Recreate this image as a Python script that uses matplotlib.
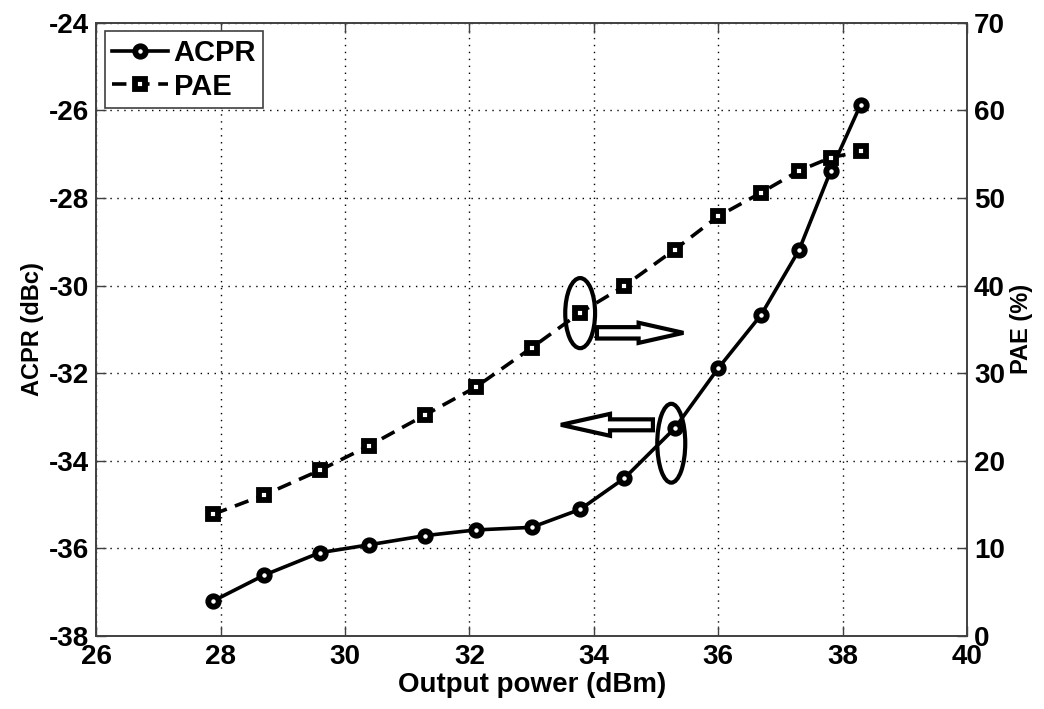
import matplotlib
matplotlib.use("Agg")
import matplotlib.pyplot as plt
from matplotlib.patches import Ellipse, FancyArrow

plt.rcParams['font.family'] = ['Liberation Sans', 'DejaVu Sans']
plt.rcParams['font.weight'] = 'bold'
plt.rcParams['axes.unicode_minus'] = False

# data
pout = [27.88, 28.70, 29.59, 30.38, 31.28, 32.10, 33.00, 33.78, 34.49, 35.30, 36.00, 36.69, 37.30, 37.81, 38.29]
acpr = [-37.2, -36.61, -36.1, -35.92, -35.71, -35.58, -35.52, -35.11, -34.40, -33.26, -31.89, -30.67, -29.19, -27.38, -25.87]
pae = [13.9, 16.1, 18.9, 21.7, 25.2, 28.4, 32.9, 36.9, 39.95, 44.1, 47.9, 50.6, 53.1, 54.6, 55.3]

xticks = [26, 28, 30, 32, 34, 36, 38, 40]
acpr_ticks = [-38, -36, -34, -32, -30, -28, -26, -24]
pae_ticks = [0, 10, 20, 30, 40, 50, 60, 70]

fig = plt.figure(figsize=(10.44, 7.09), dpi=100)
ax = fig.add_axes([0.0923, 0.103, 0.8339, 0.865])
ax2 = ax.twinx()

l1, = ax.plot(pout, acpr, '-', color='black', lw=2.6, marker='o', ms=7.5,
              mfc='white', mec='black', mew=4.2, label='ACPR')
l2, = ax2.plot(pout, pae, color='black', lw=2.6, ls=(0, (4, 2.4)), marker='s', ms=7.5,
               mfc='white', mec='black', mew=4.2, label='PAE')

ax.set_xlim(26, 40)
ax.set_ylim(-38, -24)
ax2.set_ylim(0, 70)
ax.set_xticks(xticks)
ax.set_yticks(acpr_ticks)
ax2.set_yticks(pae_ticks)

ax.grid(True, ls=(0, (1, 4)), color='black', lw=1.0)
for a in (ax, ax2):
    a.tick_params(direction='in', length=7, width=1, labelsize=20, color='#404040')
    for s in a.spines.values():
        s.set_color('#404040')
        s.set_linewidth(1.2)
ax.tick_params(axis='x', top=True, pad=6)
ax.tick_params(axis='y', pad=5)
ax2.tick_params(axis='y', pad=5)

ax.set_xlabel('Output power (dBm)', fontsize=20, fontweight='bold', labelpad=1)
ax.set_ylabel('ACPR (dBc)', fontsize=17, fontweight='bold', labelpad=4)
ax2.set_ylabel('PAE (%)', fontsize=17, fontweight='bold', labelpad=4)

# annotations: ellipses and hollow arrows
ax.add_patch(Ellipse((33.78, -30.63), 0.48, 1.6, fill=False, ec='black', lw=3, zorder=5))
ax.add_patch(Ellipse((35.245, -33.6), 0.45, 1.8, fill=False, ec='black', lw=3, zorder=5))
ax.add_patch(FancyArrow(34.05, -31.08, 1.39, 0, width=0.26, head_width=0.46, head_length=0.72,
                        length_includes_head=True, fc='white', ec='black', lw=3, zorder=5))
ax.add_patch(FancyArrow(34.95, -33.18, -1.48, 0, width=0.25, head_width=0.5, head_length=0.79,
                        length_includes_head=True, fc='white', ec='black', lw=3, zorder=5))

leg = ax2.legend(handles=[l1, l2], loc='upper left', fontsize=21, frameon=True,
                 fancybox=False, edgecolor='#404040', framealpha=1,
                 borderaxespad=0.3, handlelength=1.9, handletextpad=0.2,
                 labelspacing=0.2, borderpad=0.25)
leg.get_frame().set_linewidth(1.2)
for t in leg.get_texts():
    t.set_fontweight('bold')

fig.savefig('out.png', dpi=100)
